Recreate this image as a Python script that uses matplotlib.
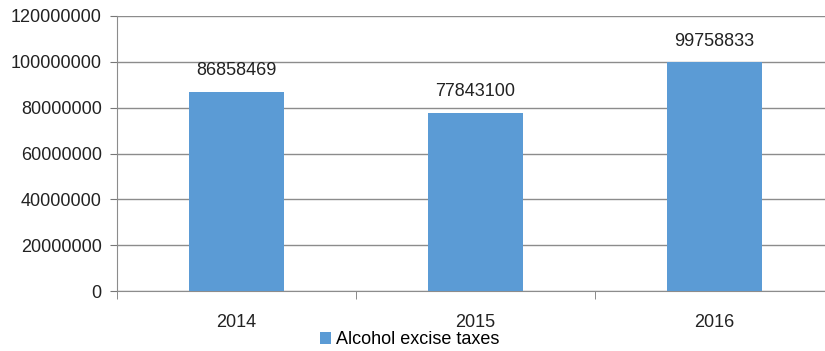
import matplotlib
matplotlib.use("Agg")
import matplotlib.pyplot as plt
from matplotlib.ticker import FixedLocator

years = ["2014", "2015", "2016"]
values = [86858469, 77843100, 99758833]
series_name = "Alcohol excise taxes"
yticks = [0, 20000000, 40000000, 60000000, 80000000, 100000000, 120000000]

plt.rcParams['font.family'] = ['Liberation Sans', 'DejaVu Sans']

fig = plt.figure(figsize=(8.25, 3.51), dpi=100)
W, H = 825, 351
left_px, right_px, top_px, bottom_px = 117, 825, 16, 291
ax = fig.add_axes([left_px / W, 1 - bottom_px / H, (right_px - left_px) / W, (bottom_px - top_px) / H])

x = list(range(len(years)))
color = "#5B9BD5"
bars = ax.bar(x, values, width=0.4, color=color, label=series_name, zorder=3)

for xi, v in zip(x, values):
    ax.annotate(f"{v}", (xi, v), xytext=(0, 9), textcoords="offset points",
                ha="center", va="bottom", fontsize=13, color="#222222")

ax.set_ylim(0, 120000000)
ax.set_yticks(yticks)
ax.set_yticklabels([str(t) for t in yticks], fontsize=13, color="#222222")
cat_px = 239
ax.set_xlim(-0.5, -0.5 + (right_px - left_px) / cat_px)
ax.set_xticks(x)
ax.set_xticklabels(years, fontsize=13, color="#222222")
ax.xaxis.set_minor_locator(FixedLocator([-0.5, 0.5, 1.5, 2.5]))
ax.tick_params(axis="x", which="major", length=0, pad=16.5)
ax.tick_params(axis="x", which="minor", length=6, color="#777777", direction="out")
ax.tick_params(axis="y", length=5, color="#777777", pad=6)

ax.grid(axis="y", color="#8c8c8c", linewidth=1.0, zorder=0)
for s in ["top", "right"]:
    ax.spines[s].set_visible(False)
ax.spines["left"].set_color("#8c8c8c")
ax.spines["bottom"].set_color("#8c8c8c")

fig.legend(handles=[bars], labels=[series_name], loc="center",
           bbox_to_anchor=(0.497, 1 - 340 / H), frameon=False, fontsize=13,
           handlelength=0.6, handleheight=0.6, handletextpad=0.3,
           borderpad=0, borderaxespad=0)

fig.savefig("out.png", dpi=100)
